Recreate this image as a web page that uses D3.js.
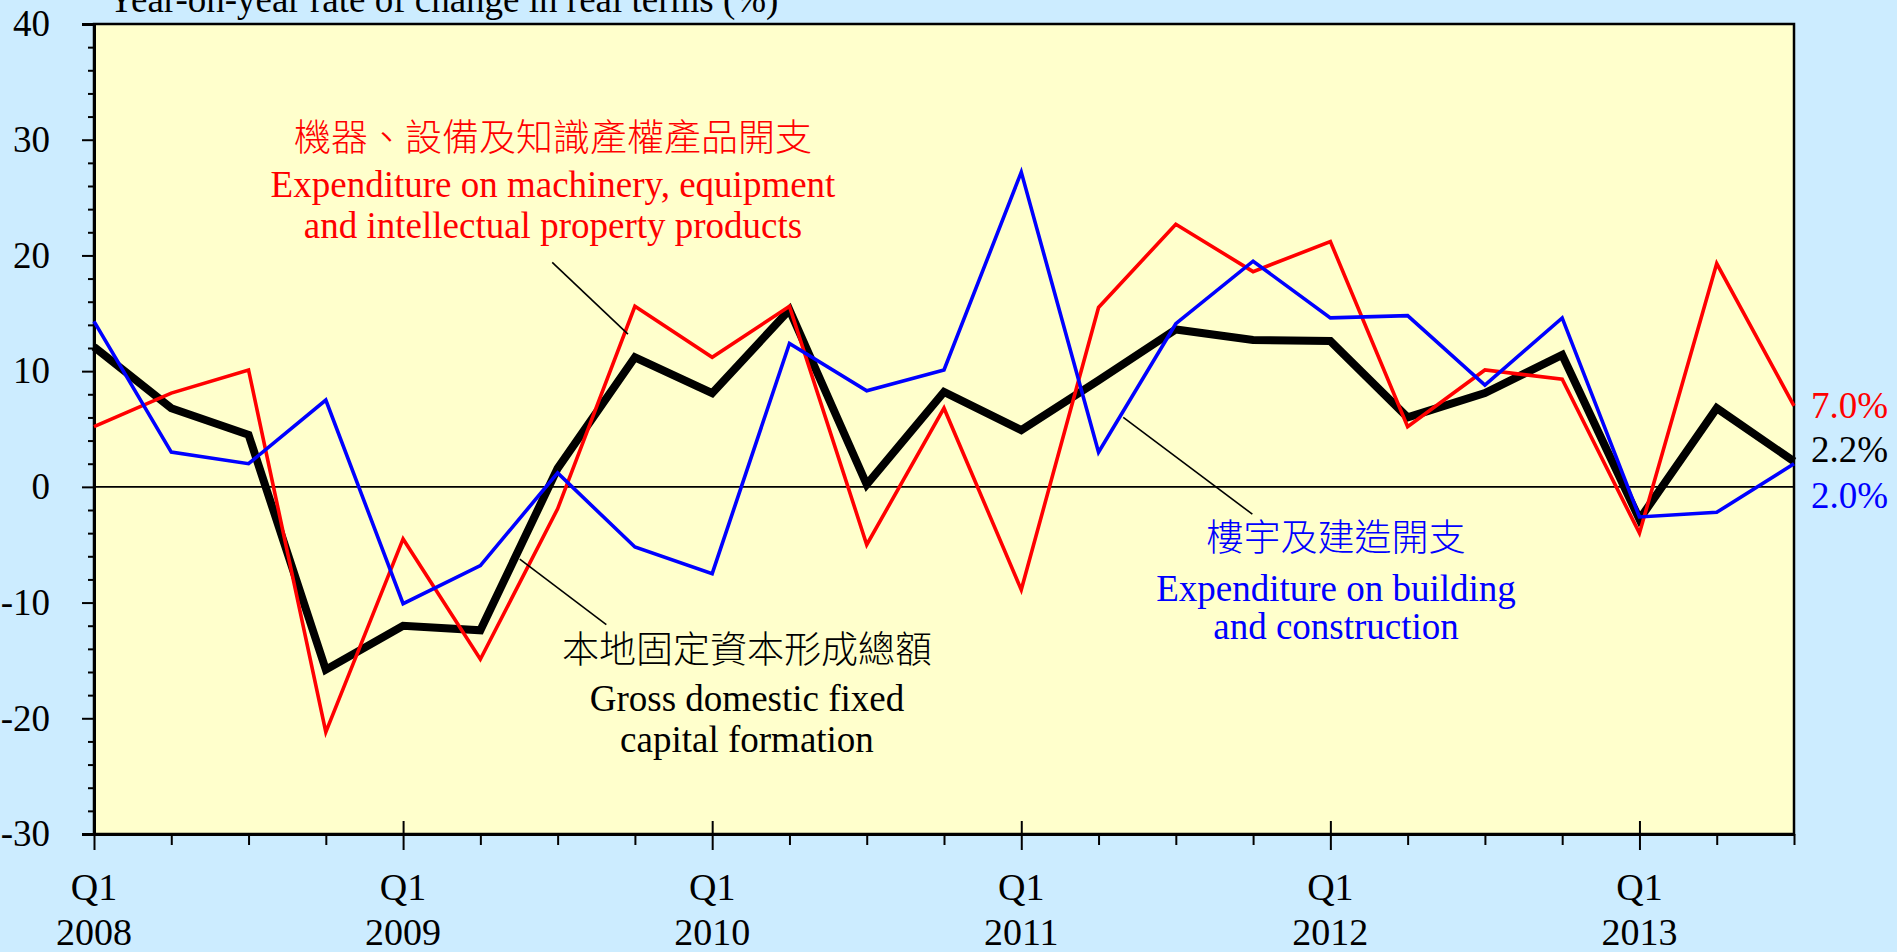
<!DOCTYPE html>
<html>
<head>
<meta charset="utf-8">
<script src="https://cdn.jsdelivr.net/npm/d3@7"></script>
<style>
    html, body { margin: 0; padding: 0; background: #ccecff; overflow: hidden; }
    svg { display: block; }
</style>
</head>
<body>
<div id="chart"></div>
<script>
const quarters = [
    "Q1 2008", "Q2 2008", "Q3 2008", "Q4 2008",
    "Q1 2009", "Q2 2009", "Q3 2009", "Q4 2009",
    "Q1 2010", "Q2 2010", "Q3 2010", "Q4 2010",
    "Q1 2011", "Q2 2011", "Q3 2011", "Q4 2011",
    "Q1 2012", "Q2 2012", "Q3 2012", "Q4 2012",
    "Q1 2013", "Q2 2013", "Q3 2013"
];

// year-on-year % change in real terms
const gdfcf = [12.1, 6.8, 4.5, -15.8, -12.0, -12.4, 1.6, 11.2, 8.1, 15.3, 0.2, 8.2,
    4.9, 9.2, 13.6, 12.7, 12.6, 6.0, 8.1, 11.4, -2.8, 6.8, 2.2];
const machinery = [5.2, 8.1, 10.1, -21.2, -4.5, -14.9, -1.9, 15.6, 11.2, 15.6, -5.0, 6.8,
    -8.9, 15.5, 22.7, 18.6, 21.2, 5.2, 10.1, 9.3, -4.0, 19.3, 7.0];
const building = [14.3, 3.0, 2.0, 7.5, -10.1, -6.8, 1.2, -5.2, -7.5, 12.4, 8.3, 10.1,
    27.2, 3.0, 14.1, 19.5, 14.6, 14.8, 8.8, 14.6, -2.6, -2.2, 2.0];

const yTicks = [-30, -20, -10, 0, 10, 20, 30, 40];
const titleText = "Year-on-year rate of change in real terms (%)";

const gdfcfLabel = ["本地固定資本形成總額", "Gross domestic fixed", "capital formation"];
const machineryLabel = ["機器、設備及知識產權產品開支", "Expenditure on machinery, equipment", "and intellectual property products"];
const buildingLabel = ["樓宇及建造開支", "Expenditure on building", "and construction"];

const W = 1897, H = 952;
const margin = {top: 24, right: 103, bottom: 118, left: 94},
    width = W - margin.left - margin.right,
    height = H - margin.top - margin.bottom;

const serif = "'Liberation Serif', 'Times New Roman', serif";
const cjk = "'Noto Sans CJK TC', 'Noto Sans CJK SC', sans-serif";

const svg = d3.select("#chart")
    .append("svg")
    .attr("width", W)
    .attr("height", H);

svg.append("rect").attr("width", W).attr("height", H).attr("fill", "#ccecff");

const g = svg.append("g")
    .attr("transform", "translate(" + margin.left + "," + margin.top + ")");

const x = d3.scalePoint().domain(quarters).range([0, width]);
const y = d3.scaleLinear().domain([-30, 40]).range([height, 0]);

// plot area
g.append("rect")
    .attr("width", width)
    .attr("height", height)
    .attr("fill", "#ffffcc")
    .attr("stroke", "#000")
    .attr("stroke-width", 2.5);

// zero line
g.append("line")
    .attr("x1", 0).attr("x2", width)
    .attr("y1", y(0)).attr("y2", y(0))
    .attr("stroke", "#000")
    .attr("stroke-width", 1.6);

// y axis
const minorY = d3.range(-30, 41, 2).filter(d => d % 10 !== 0);
g.append("g")
    .call(d3.axisLeft(y).tickValues(minorY).tickSize(6).tickFormat(""))
    .call(a => a.select(".domain").remove())
    .selectAll("line").attr("stroke-width", 2);
const yAxis = g.append("g")
    .call(d3.axisLeft(y).tickValues(yTicks).tickSize(12).tickPadding(32).tickFormat(d => String(d)));
yAxis.select(".domain").attr("stroke-width", 3);
yAxis.selectAll("line").attr("stroke-width", 2);
yAxis.selectAll("text")
    .attr("font-family", serif)
    .attr("font-size", 37)
    .attr("fill", "#000");

// x axis
const q1s = quarters.filter(q => q.startsWith("Q1"));
const others = quarters.filter(q => !q.startsWith("Q1"));
const xAxisG = g.append("g").attr("transform", `translate(0,${height})`);
xAxisG.append("g")
    .call(d3.axisBottom(x).tickValues(others).tickSize(11).tickFormat(""))
    .call(a => a.select(".domain").remove())
    .selectAll("line").attr("stroke-width", 2);
xAxisG.append("g")
    .call(d3.axisBottom(x).tickValues(q1s).tickSize(-13).tickFormat(""))
    .call(a => a.select(".domain").remove())
    .selectAll("line").attr("stroke-width", 2);
const xMain = xAxisG.append("g")
    .call(d3.axisBottom(x).tickValues(q1s).tickSizeInner(16).tickSizeOuter(0).tickFormat(""));
xMain.select(".domain").attr("stroke-width", 3);
xMain.selectAll("line").attr("stroke-width", 2);

const xLabels = xAxisG.selectAll(".xlab")
    .data(q1s)
    .join("text")
    .attr("class", "xlab")
    .attr("text-anchor", "middle")
    .attr("font-family", serif)
    .attr("font-size", 38)
    .attr("fill", "#000");
xLabels.append("tspan")
    .attr("x", d => x(d))
    .attr("y", 66)
    .text(d => d.split(" ")[0]);
xLabels.append("tspan")
    .attr("x", d => x(d))
    .attr("y", 111)
    .text(d => d.split(" ")[1]);

// series
const line = d3.line()
    .x((d, i) => x(quarters[i]))
    .y(d => y(d));

const series = [
    {values: gdfcf, color: "#000000", width: 8},
    {values: machinery, color: "#ff0000", width: 3.6},
    {values: building, color: "#0000ff", width: 3.6}
];

g.selectAll(".series")
    .data(series)
    .join("path")
    .attr("class", "series")
    .attr("d", d => line(d.values))
    .attr("fill", "none")
    .attr("stroke", d => d.color)
    .attr("stroke-width", d => d.width)
    .attr("stroke-linejoin", "miter");

// leader lines, anchored in data units (quarter index, value)
const leaders = [
    {from: [5.93, 19.4], to: [6.91, 13.2]},
    {from: [5.51, -6.25], to: [6.63, -11.9]},
    {from: [13.32, 6.0], to: [14.99, -2.36]}
];
const xi = d3.scaleLinear().domain([0, quarters.length - 1]).range([0, width]);
g.selectAll(".leader")
    .data(leaders)
    .join("line")
    .attr("class", "leader")
    .attr("x1", d => xi(d.from[0]))
    .attr("y1", d => y(d.from[1]))
    .attr("x2", d => xi(d.to[0]))
    .attr("y2", d => y(d.to[1]))
    .attr("stroke", "#000")
    .attr("stroke-width", 1.6);

// series labels (page coordinates)
function drawLabel(lines, color, cx, baselines) {
    lines.forEach((t, i) => {
        svg.append("text")
            .attr("x", cx)
            .attr("y", baselines[i])
            .attr("text-anchor", "middle")
            .attr("font-family", i === 0 ? cjk : serif)
            .attr("font-weight", i === 0 ? 300 : 400)
            .attr("font-size", 37)
            .attr("fill", color)
            .text(t);
    });
}
drawLabel(machineryLabel, "#ff0000", 553, [151, 197, 238]);
drawLabel(gdfcfLabel, "#000000", 747, [663, 711, 752]);
drawLabel(buildingLabel, "#0000ff", 1336, [551, 601, 639]);

// latest values on the right
const endLabels = [
    {v: machinery[machinery.length - 1], color: "#ff0000", yPos: 418},
    {v: gdfcf[gdfcf.length - 1], color: "#000000", yPos: 462},
    {v: building[building.length - 1], color: "#0000ff", yPos: 508}
];
svg.selectAll(".endlab")
    .data(endLabels)
    .join("text")
    .attr("class", "endlab")
    .attr("x", margin.left + width + 17)
    .attr("y", d => d.yPos)
    .attr("font-family", serif)
    .attr("font-size", 37)
    .attr("fill", d => d.color)
    .text(d => d.v.toFixed(1) + "%");

// title, partly above the page edge as in the original
svg.append("text")
    .attr("x", 108)
    .attr("y", 12)
    .attr("font-family", serif)
    .attr("font-size", 37)
    .attr("fill", "#000")
    .text(titleText);
</script>
</body>
</html>
